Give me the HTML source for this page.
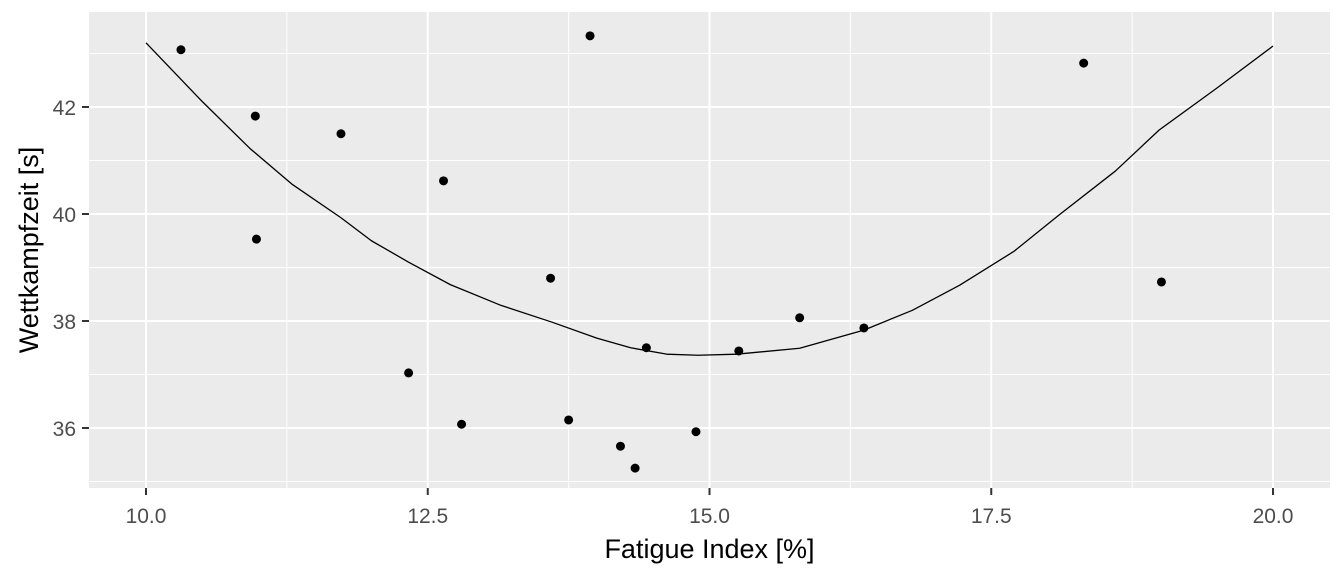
<!DOCTYPE html>
<html><head><meta charset="utf-8"><style>
body{margin:0;background:#fff}
svg text{font-family:"Liberation Sans",Arial,sans-serif}
</style></head><body>
<svg id="chart" width="1344" height="576" xmlns="http://www.w3.org/2000/svg"></svg>
<script>
const xs=[10.31,10.97,10.98,11.73,12.33,12.64,12.80,13.59,13.75,13.94,14.21,14.34,14.44,14.88,15.26,15.80,16.37,18.32,19.01];
const ys=[43.07,41.83,39.53,41.50,37.03,40.62,36.07,38.80,36.15,43.33,35.66,35.25,37.50,35.93,37.44,38.06,37.87,42.82,38.73];
const curveX=[10.0,10.5,10.92,11.3,11.73,12.0,12.33,12.7,13.14,13.6,14.0,14.3,14.62,14.9,15.24,15.8,16.37,16.8,17.22,17.7,18.1,18.6,18.99,19.5,20.0];
const curveY=[43.2,42.1,41.23,40.55,39.93,39.5,39.1,38.68,38.3,37.98,37.68,37.5,37.38,37.36,37.38,37.49,37.83,38.2,38.67,39.3,39.98,40.8,41.57,42.35,43.14];
const xTicks=[10,12.5,15,17.5,20];
const xTickLabels=["10.0","12.5","15.0","17.5","20.0"];
const xMinor=[11.25,13.75,16.25,18.75];
const yTicks=[36,38,40,42];
const yTickLabels=["36","38","40","42"];
const yMinor=[35,37,39,41,43];
const L=89,R=1330,T=12,B=488;
const X=v=>146+(v-10)*112.7;
const Y=v=>428-(v-36)*53.5;
const svg=document.getElementById('chart');
const NS='http://www.w3.org/2000/svg';
function mk(t,a,p){const e=document.createElementNS(NS,t);for(const k in a)e.setAttribute(k,a[k]);(p||svg).appendChild(e);return e;}
let e=mk('rect',{x:L,y:T,width:R-L,height:B-T,fill:'#ebebeb'});


xMinor.forEach(v=>{const g=mk('line',{x1:X(v),x2:X(v),y1:T,y2:B,stroke:'#fff','stroke-width':1});

});
yMinor.forEach(v=>{const g=mk('line',{x1:L,x2:R,y1:Y(v),y2:Y(v),stroke:'#fff','stroke-width':1});

});
xTicks.forEach((v,i)=>{const g=mk('line',{x1:X(v),x2:X(v),y1:T,y2:B,stroke:'#fff','stroke-width':2});


const t=mk('line',{x1:X(v),x2:X(v),y1:B,y2:B+7,stroke:'#333','stroke-width':2});


const l=mk('text',{x:X(v),y:B+35,'text-anchor':'middle','font-size':21,fill:'#4d4d4d'});l.textContent=xTickLabels[i];

});
yTicks.forEach((v,i)=>{const g=mk('line',{x1:L,x2:R,y1:Y(v),y2:Y(v),stroke:'#fff','stroke-width':2});


const t=mk('line',{x1:L-7,x2:L,y1:Y(v),y2:Y(v),stroke:'#333','stroke-width':2});


const l=mk('text',{x:L-13,y:Y(v)+8,'text-anchor':'end','font-size':21,fill:'#4d4d4d'});l.textContent=yTickLabels[i];

});
const p=mk('polyline',{points:curveX.map((v,i)=>X(v)+','+Y(curveY[i])).join(' '),fill:'none',stroke:'#000','stroke-width':1.3,'stroke-linejoin':'round'});


xs.forEach((v,i)=>{const c=mk('circle',{cx:X(v),cy:Y(ys[i]),r:4.5,fill:'#000'});

});
const xt=mk('text',{x:(L+R)/2+0,y:558,'text-anchor':'middle','font-size':27,fill:'#000'});xt.textContent='Fatigue Index [%]';


const yt=mk('text',{x:0,y:0,'text-anchor':'middle','font-size':27,fill:'#000',transform:'translate(38,'+((T+B)/2)+') rotate(-90)'});yt.textContent='Wettkampfzeit [s]';


</script>
</body></html>
